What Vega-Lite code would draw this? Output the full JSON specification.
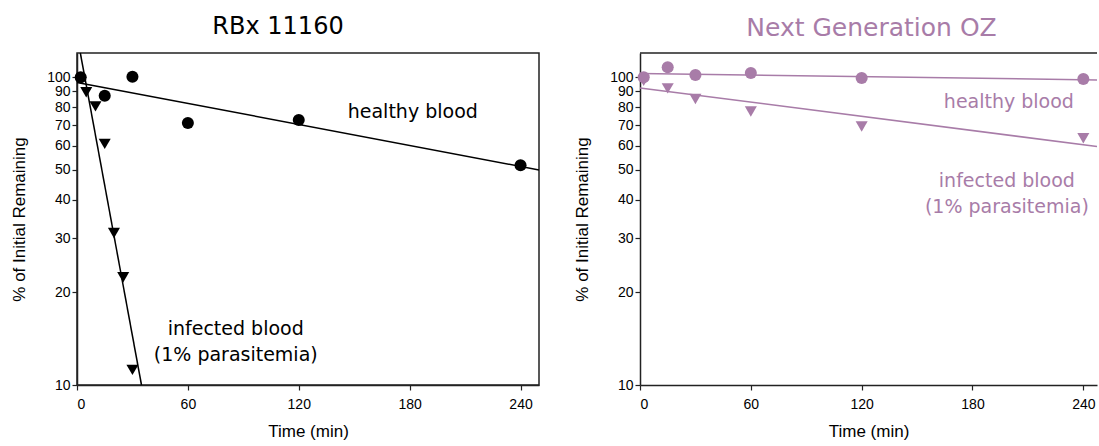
{
  "$schema": "https://vega.github.io/schema/vega-lite/v6.json",
  "padding": {"left": 9, "top": 14, "right": 0, "bottom": 0},
  "background": "white",
  "spacing": 30,
  "config": {
    "view": {"stroke": "#222", "strokeWidth": 1.5},
    "axis": {
      "grid": false,
      "domainColor": "#222",
      "domainWidth": 1.5,
      "tickColor": "#222",
      "tickSize": 5,
      "tickWidth": 1.2,
      "labelFont": "Liberation Sans",
      "labelFontSize": 14,
      "labelColor": "black",
      "titleFont": "Liberation Sans",
      "titleFontSize": 17,
      "titleFontWeight": "normal",
      "titleColor": "black"
    },
    "title": {"font": "DejaVu Sans", "fontSize": 24, "fontWeight": "normal", "baseline": "alphabetic", "offset": 11, "frame": "group"}
  },
  "datasets": {
    "points": [
      {"panel": "RBx", "group": "healthy", "time": 2, "pct": 100},
      {"panel": "RBx", "group": "healthy", "time": 15, "pct": 87.2},
      {"panel": "RBx", "group": "healthy", "time": 30, "pct": 100.5},
      {"panel": "RBx", "group": "healthy", "time": 60, "pct": 71.1},
      {"panel": "RBx", "group": "healthy", "time": 120, "pct": 72.7},
      {"panel": "RBx", "group": "healthy", "time": 240, "pct": 51.8},
      {"panel": "RBx", "group": "infected", "time": 5, "pct": 89.4},
      {"panel": "RBx", "group": "infected", "time": 10, "pct": 80.5},
      {"panel": "RBx", "group": "infected", "time": 15, "pct": 60.8},
      {"panel": "RBx", "group": "infected", "time": 20, "pct": 31.2},
      {"panel": "RBx", "group": "infected", "time": 25, "pct": 22.4},
      {"panel": "RBx", "group": "infected", "time": 30, "pct": 11.2},
      {"panel": "OZ", "group": "infected", "time": 2, "pct": 97.5},
      {"panel": "OZ", "group": "infected", "time": 15, "pct": 92.1},
      {"panel": "OZ", "group": "infected", "time": 30, "pct": 85.1},
      {"panel": "OZ", "group": "infected", "time": 60, "pct": 77.5},
      {"panel": "OZ", "group": "infected", "time": 120, "pct": 69.2},
      {"panel": "OZ", "group": "infected", "time": 240, "pct": 63.4},
      {"panel": "OZ", "group": "healthy", "time": 2, "pct": 100},
      {"panel": "OZ", "group": "healthy", "time": 15, "pct": 107.8},
      {"panel": "OZ", "group": "healthy", "time": 30, "pct": 101.8},
      {"panel": "OZ", "group": "healthy", "time": 60, "pct": 103.3},
      {"panel": "OZ", "group": "healthy", "time": 120, "pct": 99.5},
      {"panel": "OZ", "group": "healthy", "time": 240, "pct": 98.8}
    ],
    "fits": [
      {"panel": "RBx", "group": "healthy", "time": 0, "pct": 96.3},
      {"panel": "RBx", "group": "healthy", "time": 250, "pct": 50.0},
      {"panel": "RBx", "group": "infected", "time": 1.8, "pct": 120},
      {"panel": "RBx", "group": "infected", "time": 34.9, "pct": 10},
      {"panel": "OZ", "group": "healthy", "time": 0, "pct": 103.0},
      {"panel": "OZ", "group": "healthy", "time": 247.4, "pct": 98.1},
      {"panel": "OZ", "group": "infected", "time": 0, "pct": 92.4},
      {"panel": "OZ", "group": "infected", "time": 247.4, "pct": 59.6}
    ],
    "one": [{}]
  },
  "hconcat": [
    {
      "width": 462,
      "height": 332,
      "title": {"text": "RBx 11160", "color": "black", "dx": -30},
      "layer": [
        {
          "data": {"name": "fits"},
          "transform": [{"filter": "datum.panel === 'RBx'"}],
          "mark": {"type": "line", "color": "black", "strokeWidth": 1.5},
          "encoding": {
            "x": {"field": "time", "type": "quantitative", "scale": {"domain": [0, 250], "nice": false}, "axis": {"values": [0, 60, 120, 180, 240], "title": "Time (min)", "labelPadding": 7, "titlePadding": 12}},
            "y": {"field": "pct", "type": "quantitative", "scale": {"type": "log", "domain": [10, 120], "nice": false}, "axis": {"values": [10, 20, 30, 40, 50, 60, 70, 80, 90, 100], "format": "d", "title": "% of Initial Remaining", "labelPadding": 2, "titlePadding": 18}},
            "detail": {"field": "group"}
          }
        },
        {
          "data": {"name": "points"},
          "transform": [{"filter": "datum.panel === 'RBx'"}],
          "mark": {"type": "point", "filled": true, "opacity": 1, "color": "black", "size": 145},
          "encoding": {
            "x": {"field": "time", "type": "quantitative"},
            "y": {"field": "pct", "type": "quantitative"},
            "shape": {"field": "group", "type": "nominal", "scale": {"domain": ["healthy", "infected"], "range": ["circle", "triangle-down"]}, "legend": null}
          }
        },
        {
          "data": {"name": "one"},
          "mark": {"type": "text", "text": "healthy blood", "font": "DejaVu Sans", "fontSize": 19, "align": "center", "baseline": "middle", "color": "black"},
          "encoding": {"x": {"datum": 181.7}, "y": {"datum": 77.4}}
        },
        {
          "data": {"name": "one"},
          "mark": {"type": "text", "text": ["infected blood", "(1% parasitemia)"], "font": "DejaVu Sans", "fontSize": 19, "lineHeight": 26, "align": "center", "baseline": "middle", "color": "black"},
          "encoding": {"x": {"datum": 85.9}, "y": {"datum": 15.2}}
        }
      ]
    },
    {
      "width": 457,
      "height": 332,
      "view": {"stroke": null},
      "title": {"text": "Next Generation OZ", "color": "#a87ca8", "dx": 3, "fontSize": 25},
      "layer": [
        {
          "data": {"name": "one"},
          "mark": {"type": "rule", "color": "#222", "strokeWidth": 1.5},
          "encoding": {"y": {"datum": 120}}
        },
        {
          "data": {"name": "fits"},
          "transform": [{"filter": "datum.panel === 'OZ'"}],
          "mark": {"type": "line", "color": "#a87ca8", "strokeWidth": 1.5},
          "encoding": {
            "x": {"field": "time", "type": "quantitative", "scale": {"domain": [0, 247.4], "nice": false}, "axis": {"values": [0, 60, 120, 180, 240], "title": "Time (min)", "labelPadding": 7, "titlePadding": 12}},
            "y": {"field": "pct", "type": "quantitative", "scale": {"type": "log", "domain": [10, 120], "nice": false}, "axis": {"values": [10, 20, 30, 40, 50, 60, 70, 80, 90, 100], "format": "d", "title": "% of Initial Remaining", "labelPadding": 2, "titlePadding": 18}},
            "detail": {"field": "group"}
          }
        },
        {
          "data": {"name": "points"},
          "transform": [{"filter": "datum.panel === 'OZ'"}],
          "mark": {"type": "point", "filled": true, "opacity": 1, "color": "#a87ca8", "size": 145},
          "encoding": {
            "x": {"field": "time", "type": "quantitative"},
            "y": {"field": "pct", "type": "quantitative"},
            "shape": {"field": "group", "type": "nominal", "scale": {"domain": ["healthy", "infected"], "range": ["circle", "triangle-down"]}, "legend": null}
          }
        },
        {
          "data": {"name": "one"},
          "mark": {"type": "text", "text": "healthy blood", "font": "DejaVu Sans", "fontSize": 19, "align": "center", "baseline": "middle", "color": "#a87ca8"},
          "encoding": {"x": {"datum": 199.7}, "y": {"datum": 83.4}}
        },
        {
          "data": {"name": "one"},
          "mark": {"type": "text", "text": ["infected blood", "(1% parasitemia)"], "font": "DejaVu Sans", "fontSize": 19, "lineHeight": 26, "align": "center", "baseline": "middle", "color": "#a87ca8"},
          "encoding": {"x": {"datum": 198.6}, "y": {"datum": 45.9}}
        }
      ]
    }
  ]
}
